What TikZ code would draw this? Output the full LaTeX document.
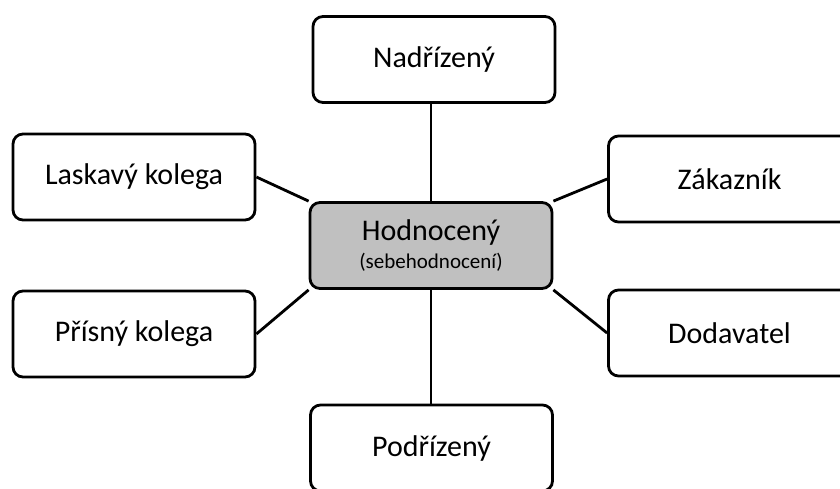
\documentclass[tikz,border=0pt]{standalone}
\usepackage{fontspec}
\setmainfont{Carlito}
\begin{document}
\begin{tikzpicture}[x=1pt,y=-1pt,
  box/.style={draw=black, line width=2.8pt, rounded corners=10pt, fill=white,
    minimum width=242pt, minimum height=86pt, inner sep=0pt, align=center,
    font=\fontsize{30}{36}\selectfont},
  centerbox/.style={box, fill=boxgray},
  link/.style={draw=black, line width=2.8pt}]
\definecolor{boxgray}{HTML}{C0C0C0}
\useasboundingbox (0,0) rectangle (840,488);
\clip (0,0) rectangle (840,488);
\fill[white] (0,0) rectangle (840,488);
\node[box] (nad) at (434,59.5) {Nadřízený};
\node[box] (las) at (134,177) {Laskavý kolega};
\node[box] (zak) at (729.5,179) {Zákazník};
\node[centerbox] (hod) at (431,245.5) {Hodnocený\\[-8pt]{\fontsize{21}{25}\selectfont(sebehodnocení)}};
\node[box] (pri) at (134,334) {Přísný kolega};
\node[box] (dod) at (729.5,333) {Dodavatel};
\node[box] (pod) at (431.5,448) {Podřízený};
\draw[link] (hod.north) -- (hod.north |- nad.south);
\draw[link] (hod.south) -- (hod.south |- pod.north);
\draw[link] (las.east) -- (hod.north west);
\draw[link] (pri.east) -- (hod.south west);
\draw[link] (zak.west) -- (hod.north east);
\draw[link] (dod.west) -- (hod.south east);
\end{tikzpicture}
\end{document}
